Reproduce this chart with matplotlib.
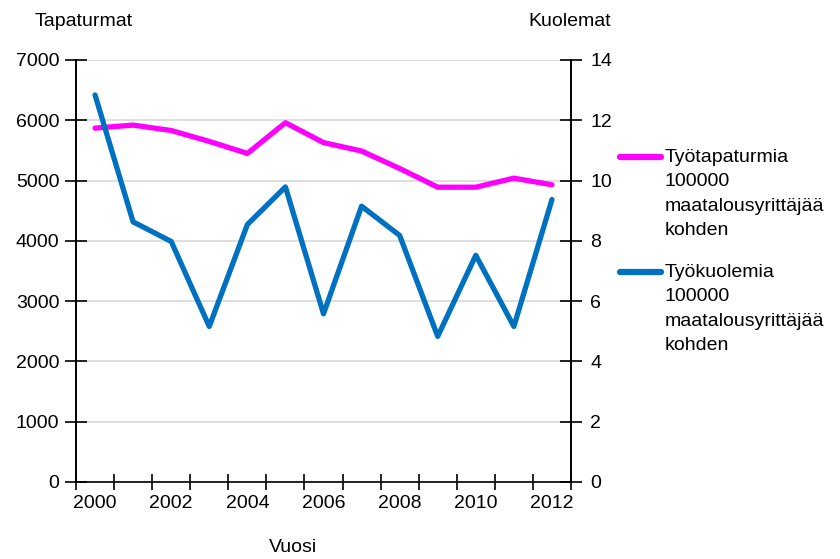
import matplotlib
matplotlib.use("Agg")
import matplotlib.pyplot as plt
from matplotlib.lines import Line2D
import numpy as np

plt.rcParams['font.family'] = ['Liberation Sans', 'DejaVu Sans']

years = [2000, 2001, 2002, 2003, 2004, 2005, 2006, 2007, 2008, 2009, 2010, 2011, 2012]
tapaturmat = [5870, 5920, 5830, 5650, 5450, 5960, 5630, 5490, 5200, 4890, 4890, 5040, 4930]
kuolemat = [12.84, 8.63, 7.98, 5.16, 8.54, 9.79, 5.58, 9.15, 8.18, 4.83, 7.52, 5.16, 9.37]
left_ticks = [0, 1000, 2000, 3000, 4000, 5000, 6000, 7000]
right_ticks = [0, 2, 4, 6, 8, 10, 12, 14]
label_tapaturma = "Työtapaturmia\n100000\nmaatalousyrittäjää\nkohden"
label_kuolema = "Työkuolemia\n100000\nmaatalousyrittäjää\nkohden"

pink = '#FF00FF'
blue = '#0070C0'
fs = 14

fig = plt.figure(figsize=(8.4, 5.59), dpi=100)
ax = fig.add_axes([76/840, 1-482/559, (571-76)/840, (482-60)/559])
ax2 = ax.twinx()

x = np.arange(len(years))
ax.plot(x, tapaturmat, color=pink, lw=3.8, solid_capstyle='round', zorder=3)
ax2.plot(x, kuolemat, color=blue, lw=3.8, solid_capstyle='round', zorder=3)

ax.set_xlim(-0.5, len(years)-0.5)
ax.set_ylim(0, 7000)
ax2.set_ylim(0, 14)
ax.set_yticks(left_ticks)
ax.set_yticklabels([str(v) for v in left_ticks])
ax2.set_yticks(right_ticks)
ax2.set_yticklabels([str(v) for v in right_ticks])

ax.set_xticks(np.arange(-0.5, len(years), 1.0))
ax.set_xticklabels([])
ax.set_xticks(x[::2], minor=True)
ax.set_xticklabels([str(y) for y in years[::2]], minor=True)
ax.tick_params(axis='x', which='major', direction='inout', length=12, width=1.2, color='black')
ax.tick_params(axis='x', which='minor', length=0, pad=9, labelsize=fs)
ax.tick_params(axis='y', direction='inout', length=16, width=1.2, pad=4, labelsize=fs)
ax2.tick_params(axis='y', direction='inout', length=16, width=1.2, pad=6, labelsize=fs)

ax.grid(axis='y', color='#d9d9d9', lw=1.2, zorder=0)
ax.set_axisbelow(True)
for a in (ax, ax2):
    a.spines['top'].set_visible(False)
    for s in ('left', 'right', 'bottom'):
        a.spines[s].set_linewidth(1.2)
        a.spines[s].set_color('black')
ax2.spines['bottom'].set_visible(False)

fig.text(35/840, 1-22/559, "Tapaturmat", fontsize=fs, ha='left', va='center')
fig.text(611/840, 1-22/559, "Kuolemat", fontsize=fs, ha='right', va='center')
fig.text(293/840, 1-548/559, "Vuosi", fontsize=fs, ha='center', va='center')

# legend
for ytop, col, lab in ((157, pink, label_tapaturma), (272, blue, label_kuolema)):
    fig.add_artist(Line2D([620/840, 661/840], [1-ytop/559, 1-ytop/559], color=col, lw=4.5,
                          solid_capstyle='round', transform=fig.transFigure))
    fig.text(665/840, 1-(ytop-8)/559, lab, fontsize=fs, ha='left', va='top', linespacing=1.57)

fig.savefig("out.png", dpi=100)
